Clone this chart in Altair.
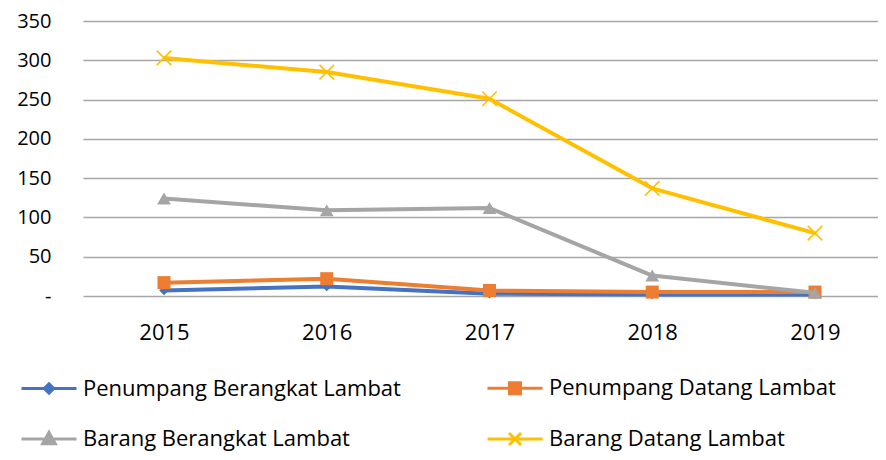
import altair as alt
import pandas as pd

years = ["2015", "2016", "2017", "2018", "2019"]
series_names = [
    "Penumpang Berangkat Lambat",
    "Penumpang Datang Lambat",
    "Barang Berangkat Lambat",
    "Barang Datang Lambat",
]
penumpang_berangkat = [7, 12, 3, 2, 2]
penumpang_datang = [17, 22, 7, 5, 5]
barang_berangkat = [124, 109, 112, 26, 4]
barang_datang = [303, 285, 251, 137, 80]
y_ticks = [0, 50, 100, 150, 200, 250, 300, 350]

colors = ["#4472C4", "#ED7D31", "#A5A5A5", "#FFC000"]
marker_shapes = ["diamond", "square", "triangle-up", "M-1,-1L1,1M1,-1L-1,1"]
marker_sizes = [90, 170, 190, 210]
marker_filled = [True, True, True, False]
legend_paths = [
    "M-1,0L1,0M0,-0.17L0.17,0L0,0.17L-0.17,0Z",
    "M-1,0L1,0M-0.2,-0.2L0.2,-0.2L0.2,0.2L-0.2,0.2Z",
    "M-1,0L1,0M0,-0.24L0.23,0.17L-0.23,0.17Z",
    "M-1,0L1,0M-0.22,-0.22L0.22,0.22M0.22,-0.22L-0.22,0.22",
]

rows = []
for name, vals in zip(series_names, [penumpang_berangkat, penumpang_datang, barang_berangkat, barang_datang]):
    for yr, v in zip(years, vals):
        rows.append({"year": yr, "series": name, "value": v})
df = pd.DataFrame(rows)

FONT = "Open Sans"

x_enc = alt.X(
    "year:O",
    scale=alt.Scale(type="point", padding=0.4424, align=0.5625),
    axis=alt.Axis(title=None, labelAngle=0, ticks=False, domain=False, grid=False,
                  labelFontSize=22, labelFont=FONT, labelColor="#000000", labelPadding=26),
)
y_enc = alt.Y(
    "value:Q",
    scale=alt.Scale(domain=[0, 350], nice=False, zero=True),
    axis=alt.Axis(title=None, values=y_ticks, labelExpr="datum.value == 0 ? '-' : datum.label",
                  ticks=False, domain=False, grid=True, gridColor="#A6A6A6", gridWidth=1.3,
                  labelPadding=32, labelFontSize=20, labelFont=FONT, labelColor="#000000"),
)

base = alt.Chart(df)
layers = []
for i, name in enumerate(series_names):
    sub = base.transform_filter(alt.datum.series == name)
    layers.append(
        sub.mark_line(color=colors[i], strokeWidth=4, strokeJoin="round").encode(x=x_enc, y=y_enc)
    )
    if marker_filled[i]:
        pt = sub.mark_point(shape=marker_shapes[i], size=marker_sizes[i], filled=True,
                            color=colors[i], opacity=1)
    else:
        pt = sub.mark_point(shape=marker_shapes[i], size=marker_sizes[i], filled=False,
                            color=colors[i], strokeWidth=1.6, opacity=1)
    layers.append(pt.encode(x=x_enc, y=y_enc))

legend_layer = base.transform_filter("false").mark_point(filled=False, strokeWidth=3).encode(
    x=x_enc,
    y=y_enc,
    fill=alt.Fill("series:N", scale=alt.Scale(domain=series_names, range=colors), title=None),
    stroke=alt.Stroke("series:N", scale=alt.Scale(domain=series_names, range=colors), title=None),
    shape=alt.Shape("series:N", scale=alt.Scale(domain=series_names, range=legend_paths), title=None),
)
layers.append(legend_layer)

chart = alt.layer(*layers).properties(
    width=795,
    height=275,
    autosize=alt.AutoSizeParams(type="none"),
    padding={"left": 75, "top": 13, "right": 0, "bottom": 156},
).configure_view(stroke=None).configure_legend(
    orient="none",
    direction="horizontal",
    legendX=-63,
    legendY=338,
    columns=2,
    columnPadding=80,
    rowPadding=10,
    padding=0,
    symbolSize=3025,
    symbolStrokeWidth=3,
    symbolOpacity=1,
    labelOffset=5,
    labelFont=FONT,
    labelFontSize=22,
    labelColor="#000000",
    labelLimit=500,
    title=None,
)

chart.save("out.html", embed_options={"renderer": "svg", "actions": False})
